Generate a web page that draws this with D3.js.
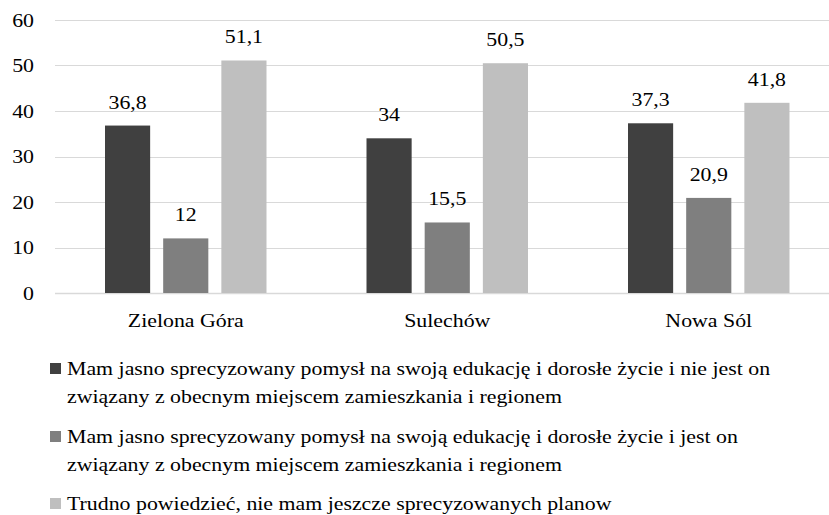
<!DOCTYPE html>
<html>
<head>
<meta charset="utf-8">
<script src="https://cdnjs.cloudflare.com/ajax/libs/d3/7.8.5/d3.min.js"></script>
</head>
<body style="margin:0; background:#fff">
<svg width="829" height="515"></svg>
<script>
// data
var categories = ["Zielona Góra", "Sulechów", "Nowa Sól"];
var seriesNames = [
  ["Mam jasno sprecyzowany pomysł na swoją edukację i dorosłe życie i nie jest on", "związany z obecnym miejscem zamieszkania i regionem"],
  ["Mam jasno sprecyzowany pomysł na swoją edukację i dorosłe życie i jest on", "związany z obecnym miejscem zamieszkania i regionem"],
  ["Trudno powiedzieć, nie mam jeszcze sprecyzowanych planow"]
];
var notLocal = [36.8, 34, 37.3];
var local = [12, 15.5, 20.9];
var unsure = [51.1, 50.5, 41.8];
var yTicks = [0, 10, 20, 30, 40, 50, 60];

var colours = ["#404040", "#7f7f7f", "#bfbfbf"];
var series = [notLocal, local, unsure];

var svg = d3.select("svg"),
    width = +svg.attr("width"),
    height = +svg.attr("height");

var plotLeft = 55, plotTop = 20, plotBottom = 293;
var stretch = 1.15; // the original picture is a bit wider than tall

var y = d3.scaleLinear().domain([0, 60]).range([plotBottom, plotTop]);

var x0 = d3.scaleBand()
    .domain(categories)
    .range([plotLeft, plotLeft + 261.5 * 3]);

var x1 = d3.scaleBand()
    .domain([0, 1, 2])
    .range([50, 211.5])
    .paddingInner(0.224);

function fmt(v) { return String(v).replace(".", ","); }

var cells = [];
categories.forEach(function(c, i) {
  series.forEach(function(s, k) { cells.push({c: c, k: k, v: s[i]}); });
});

//put a text at x,y in the serif font
function label(parent, x, y, txt, anchor) {
  return parent.append("text")
    .attr("transform", "translate(" + x + "," + y + ") scale(" + stretch + ",1)")
    .attr("text-anchor", anchor || "start")
    .attr("font-family", "Liberation Serif")
    .attr("font-size", 19)
    .attr("fill", "#000")
    .text(txt);
}

//gridlines
svg.append("g")
    .selectAll("line")
    .data(yTicks)
    .enter().append("line")
    .attr("x1", plotLeft)
    .attr("x2", width)
    .attr("y1", function(d) { return Math.round(y(d)) + 0.5; })
    .attr("y2", function(d) { return Math.round(y(d)) + 0.5; })
    .attr("stroke", "#d9d9d9")
    .attr("stroke-width", function(d) { return d === 0 ? 1.5 : 1; });

//y tick labels
yTicks.forEach(function(t) {
  label(svg, 34, y(t) + 6.5, t, "end");
});

//bars
svg.append("g")
    .selectAll("rect")
    .data(cells)
    .enter().append("rect")
    .attr("x", function(d) { return x0(d.c) + x1(d.k); })
    .attr("width", x1.bandwidth())
    .attr("y", function(d) { return y(d.v); })
    .attr("height", function(d) { return plotBottom - y(d.v); })
    .attr("fill", function(d) { return colours[d.k]; });

//value labels
cells.forEach(function(d) {
  label(svg, x0(d.c) + x1(d.k) + x1.bandwidth() / 2, y(d.v) - 17, fmt(d.v), "middle");
});

//category labels
categories.forEach(function(c) {
  label(svg, x0(c) + 130.75, 327, c, "middle");
});

//legend
var legendTop = [375, 443, 510];
svg.append("g")
    .selectAll("rect")
    .data(seriesNames)
    .enter().append("rect")
    .attr("x", 50)
    .attr("y", function(d, i) { return legendTop[i] - 12; })
    .attr("width", 11)
    .attr("height", 11)
    .attr("fill", function(d, i) { return colours[i]; });

seriesNames.forEach(function(lines, i) {
  lines.forEach(function(line, j) {
    label(svg, 67, legendTop[i] + j * 28, line);
  });
});
</script>
</body>
</html>
